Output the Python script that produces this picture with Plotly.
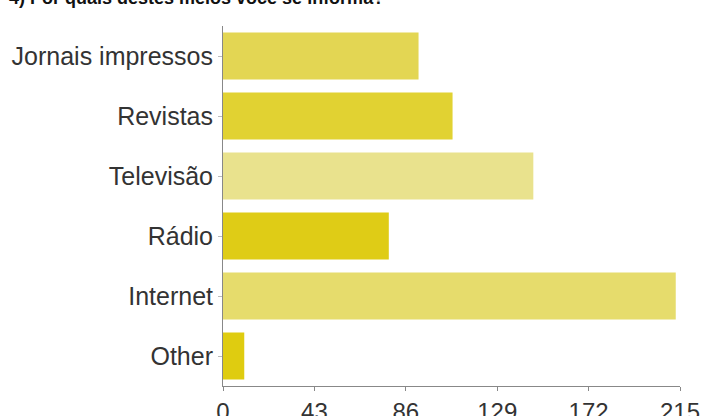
import plotly.graph_objects as go

categories = ["Jornais impressos", "Revistas", "Televisão", "Rádio", "Internet", "Other"]
values = [92, 108, 146, 78, 213, 10]
bar_colors = ["#e3d653", "#e1d232", "#e9e28d", "#dfcc16", "#e6dc6c", "#dfcc10"]
tick_values = [0, 43, 86, 129, 172, 215]
title_text = "4) Por quais destes meios você se informa?"

fig = go.Figure(go.Bar(
    y=categories, x=values, orientation="h",
    marker=dict(color=bar_colors, line=dict(width=0)),
))

fig.update_layout(
    width=702, height=416,
    margin=dict(l=223, r=22, t=26, b=30, autoexpand=False),
    paper_bgcolor="white", plot_bgcolor="white",
    bargap=0.22, showlegend=False,
    font=dict(family="Liberation Sans, Arial, sans-serif", size=24, color="#333333"),
    annotations=[dict(
        text="<b>" + title_text + "</b>", xref="paper", yref="paper",
        x=-(223 - 7) / 457, y=1 + (26 - 10) / 360, xanchor="left", yanchor="bottom",
        showarrow=False, font=dict(size=18, color="#111111"),
    )],
)
fig.update_xaxes(
    range=[0, 215], tickvals=tick_values, showgrid=False, zeroline=False,
    showline=True, linecolor="#888888", linewidth=1,
    ticks="outside", ticklen=4, tickcolor="#888888", automargin=False,
    tickfont=dict(size=24, color="#333333"), ticklabelstandoff=0,
)
fig.update_yaxes(
    categoryorder="array", categoryarray=categories, autorange="reversed",
    showgrid=False, zeroline=False, automargin=False,
    showline=True, linecolor="#888888", linewidth=1,
    ticks="outside", ticklen=4, tickcolor="#bbbbbb",
    tickfont=dict(size=25, color="#333333"),
)

fig.write_html(
    "out.html",
    config={"displayModeBar": False},
    post_script="document.body.style.margin='0';document.body.style.overflow='hidden';",
)
